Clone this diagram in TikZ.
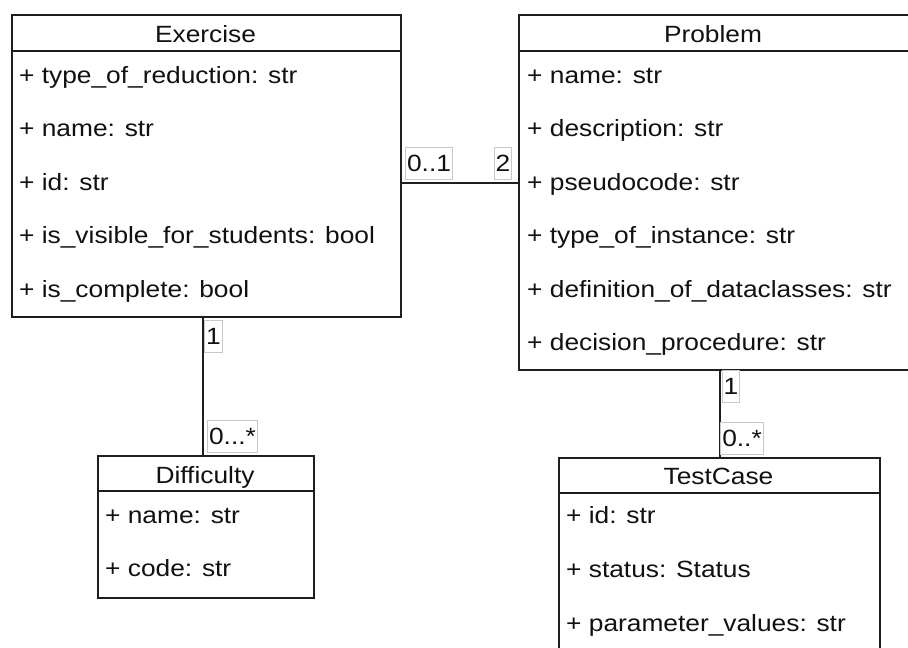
\documentclass[tikz,border=0pt]{standalone}
\usepackage{fontspec}
\setmainfont{Liberation Sans}[FakeStretch=1.12]
\definecolor{linec}{HTML}{1E1E1E}
\definecolor{textc}{HTML}{111111}
\definecolor{multc}{HTML}{C8C8C8}
\newcommand{\umlfont}{\fontsize{23.5}{28}\selectfont}
\begin{document}
\begin{tikzpicture}[x=1pt,y=-1pt,
  box/.style={draw=linec, line width=2pt, fill=white, inner sep=0pt, anchor=north west},
  title/.style={anchor=base, font=\umlfont, text=textc, inner sep=0pt},
  attr/.style={anchor=base west, font=\umlfont, text=textc, inner sep=0pt},
  mult/.style={draw=multc, line width=0.8pt, fill=white, font=\umlfont, text=textc,
    inner xsep=1.5pt, inner ysep=0pt, minimum height=32pt},
  assoc/.style={draw=linec, line width=2pt}]
\useasboundingbox (0,0) rectangle (908,648);
\clip (0,0) rectangle (908,648);

% Exercise
\node[box, minimum width=389pt, minimum height=36pt] (exh) at (11,14) {};
\node[box, minimum width=389pt, minimum height=266pt] (exb) at (11,50) {};
\node[title] (ext) at (205.5,42.5) {Exercise};
\node[attr] (ex1) at (19,83) {+ type\_of\_reduction: str};
\node[attr] (ex2) at (19,136.5) {+ name: str};
\node[attr] (ex3) at (19,190) {+ id: str};
\node[attr] (ex4) at (19,243.5) {+ is\_visible\_for\_students: bool};
\node[attr] (ex5) at (19,297) {+ is\_complete: bool};

% Problem
\node[box, minimum width=420pt, minimum height=36pt] (prh) at (518,14) {};
\node[box, minimum width=420pt, minimum height=319pt] (prb) at (518,50) {};
\node[title] (prt) at (713,42.5) {Problem};
\node[attr] (pr1) at (527,83) {+ name: str};
\node[attr] (pr2) at (527,136.5) {+ description: str};
\node[attr] (pr3) at (527,190) {+ pseudocode: str};
\node[attr] (pr4) at (527,243.5) {+ type\_of\_instance: str};
\node[attr] (pr5) at (527,297) {+ definition\_of\_dataclasses: str};
\node[attr] (pr6) at (527,350.5) {+ decision\_procedure: str};

% Difficulty
\node[box, minimum width=216pt, minimum height=35pt] (dfh) at (97,455) {};
\node[box, minimum width=216pt, minimum height=107pt] (dfb) at (97,490) {};
\node[title] (dft) at (205,483) {Difficulty};
\node[attr] (df1) at (105,523) {+ name: str};
\node[attr] (df2) at (105,576.5) {+ code: str};

% TestCase
\node[box, minimum width=321pt, minimum height=35pt] (tch) at (558,457) {};
\node[box, minimum width=321pt, minimum height=220pt] (tcb) at (558,492) {};
\node[title] (tct) at (718.5,484.5) {TestCase};
\node[attr] (tc1) at (566,523.5) {+ id: str};
\node[attr] (tc2) at (566,577) {+ status: Status};
\node[attr] (tc3) at (566,631.5) {+ parameter\_values: str};

% associations
\coordinate (epy) at (0,183);
\coordinate (edx) at (203,0);
\draw[assoc] (exb.east |- epy) -- (prb.west |- epy);
\draw[assoc] (exb.south -| edx) -- (dfh.north -| edx);
\draw[assoc] (prb.south -| tch.north) -- (tch.north);

% multiplicities
\node[mult] (m1) at (429,163) {0..1};
\node[mult] (m2) at (503,163) {2};
\node[mult] (m3) at (213.5,336) {1};
\node[mult] (m4) at (232.5,436) {0...*};
\node[mult] (m5) at (731,386.5) {1};
\node[mult] (m6) at (742,438) {0..*};
\end{tikzpicture}
\end{document}
